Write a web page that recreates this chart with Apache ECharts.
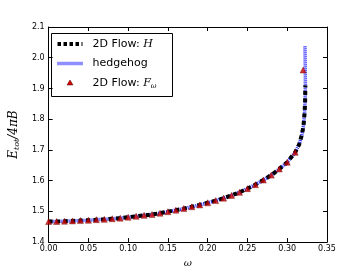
<!DOCTYPE html>
<html><head><meta charset="utf-8">
<script src="https://cdn.jsdelivr.net/npm/echarts@6/dist/echarts.min.js"></script>
<style>html,body{margin:0;padding:0;background:#fff}#c{width:363px;height:273px}</style>
</head><body><div id="c"></div>
<script>
// Data
var omegaBase = [0.00,0.01,0.02,0.03,0.04,0.05,0.06,0.07,0.08,0.09,0.10,0.11,0.12,0.13,0.14,0.15,0.16,0.17,0.18,0.19,0.20,0.21,0.22,0.23,0.24,0.25,0.26,0.27,0.28,0.29,0.30,0.31];
var energyBase = [1.467,1.467,1.468,1.469,1.470,1.471,1.473,1.474,1.476,1.478,1.481,1.484,1.487,1.490,1.494,1.499,1.504,1.509,1.515,1.521,1.528,1.535,1.543,1.552,1.562,1.574,1.587,1.602,1.618,1.638,1.660,1.692];
var omegaHTail = [0.315,0.3185,0.3205,0.3218,0.3225,0.3228];
var energyHTail = [1.718,1.750,1.780,1.820,1.860,1.910];
var omegaHedgeTail = [0.315,0.3185,0.3205,0.3218,0.3225,0.3228,0.3227,0.3225,0.3223];
var energyHedgeTail = [1.718,1.750,1.780,1.820,1.860,1.910,1.950,2.000,2.040];
var omegaFTail = [0.320];
var energyFTail = [1.960];
var seriesNames = ['2D Flow: H','hedgehog','2D Flow: Fω'];

function zip(a,b){return a.map(function(v,i){return [v,b[i]];});}
var dataH = zip(omegaBase.concat(omegaHTail), energyBase.concat(energyHTail));
var dataHedge = zip(omegaBase.concat(omegaHedgeTail), energyBase.concat(energyHedgeTail));
var dataF = zip(omegaBase.concat(omegaFTail), energyBase.concat(energyFTail));

var font = 'DejaVu Sans';
var chart = echarts.init(document.getElementById('c'), null, {renderer:'canvas'});
var axisCommon = {
  type:'value',
  axisLine:{show:true,onZero:false,lineStyle:{color:'#000',width:1}},
  axisTick:{show:true,inside:true,length:4,lineStyle:{color:'#000'}},
  splitLine:{show:false}
};
var richLegend = {
  a:{fontFamily:font,fontSize:11,color:'#000'},
  i:{fontFamily:'DejaVu Serif',fontStyle:'italic',fontSize:11,color:'#000'},
  s:{fontFamily:'DejaVu Serif',fontStyle:'italic',fontSize:7,color:'#000',padding:[7,0,0,0]}
};
chart.setOption({
  animation:false,
  grid:{left:45,right:36,top:27,bottom:28,containLabel:false},
  xAxis:[
    Object.assign({},axisCommon,{position:'bottom',min:0,max:0.35,interval:0.05,
      axisLabel:{fontFamily:font,fontSize:8,color:'#000',margin:3,formatter:function(v){return v.toFixed(2);}},
      name:'ω',nameLocation:'middle',nameGap:14,
      nameTextStyle:{fontFamily:'DejaVu Serif',fontStyle:'italic',fontSize:10,color:'#000'}}),
    Object.assign({},axisCommon,{position:'top',min:0,max:0.35,interval:0.05,axisLabel:{show:false}})
  ],
  yAxis:[
    Object.assign({},axisCommon,{position:'left',min:1.4,max:2.1,interval:0.1,
      axisLabel:{fontFamily:font,fontSize:8,color:'#000',margin:4,formatter:function(v){return v.toFixed(1);}},
      name:'{i|E}{s|tot}{i|/4πB}',nameLocation:'middle',nameGap:26,nameRotate:90,
      nameTextStyle:{rich:{
        i:{fontFamily:'DejaVu Serif',fontStyle:'italic',fontSize:12,color:'#000'},
        s:{fontFamily:'DejaVu Serif',fontStyle:'italic',fontSize:8,color:'#000',padding:[6,0,0,0]}
      }}}),
    Object.assign({},axisCommon,{position:'right',min:1.4,max:2.1,interval:0.1,axisLabel:{show:false}})
  ],
  series:[
    {name:seriesNames[1],type:'line',data:dataHedge,showSymbol:false,symbol:'none',z:2,
      lineStyle:{color:'#2020ff',width:3.5,type:[1,1]}},
    {name:seriesNames[0],type:'line',data:dataH,showSymbol:false,symbol:'none',z:3,
      lineStyle:{color:'#000',width:4,type:[4,3.5]}},
    {name:seriesNames[2],type:'scatter',data:dataF,symbol:'triangle',symbolSize:6,z:4,
      itemStyle:{color:'#d00000',borderColor:'#600000',borderWidth:0.5}}
  ],
  graphic:[{
    type:'group', left:51, top:33, z:100,
    children:[
      {type:'rect',shape:{x:0,y:0,width:121,height:63},style:{fill:'#fff',stroke:'#000',lineWidth:1}},
      {type:'line',shape:{x1:6,y1:10.5,x2:31,y2:10.5},style:{stroke:'#000',lineWidth:4,lineDash:[3.5,2.5]}},
      {type:'text',x:41,y:10.5,style:{text:'{a|2D Flow: }{i|H}',rich:richLegend,verticalAlign:'middle'}},
      {type:'line',shape:{x1:6,y1:30,x2:31,y2:30},style:{stroke:'#2020ff',lineWidth:3.5,lineDash:[1,1]}},
      {type:'text',x:41,y:30,style:{text:'{a|hedgehog}',rich:richLegend,verticalAlign:'middle'}},
      {type:'polygon',shape:{points:[[18.5,46.5],[21.5,51.5],[15.5,51.5]]},style:{fill:'#d00000',stroke:'#600000',lineWidth:0.5}},
      {type:'text',x:41,y:49.5,style:{text:'{a|2D Flow: }{i|F}{s|ω}',rich:richLegend,verticalAlign:'middle'}}
    ]
  }]
});
</script></body></html>
